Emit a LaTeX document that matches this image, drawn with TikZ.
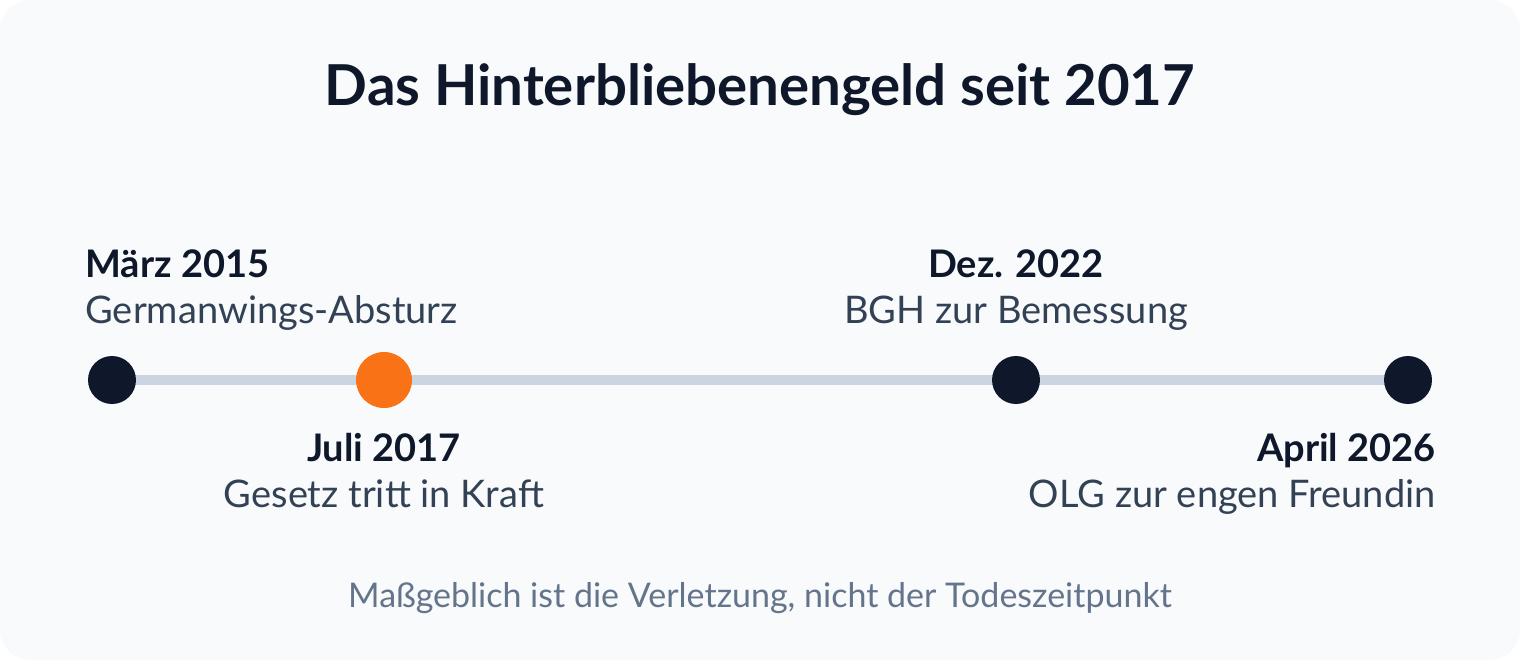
\documentclass[tikz,border=0pt]{standalone}
\usepackage{fontspec}
\setmainfont{Lato}
\usetikzlibrary{positioning}

\definecolor{ink}{HTML}{0F172A}
\definecolor{slate}{HTML}{334155}
\definecolor{muted}{HTML}{64748B}
\definecolor{rail}{HTML}{CBD5E1}
\definecolor{paper}{HTML}{F8FAFC}
\definecolor{accent}{HTML}{F97316}

\tikzset{
    date/.style={inner sep=0pt, text=ink, font=\fontsize{19}{23}\selectfont\bfseries},
    event/.style={inner sep=0pt, text=slate, font=\fontsize{19}{23}\selectfont},
    dot/.style={circle, fill=ink, inner sep=0pt, minimum size=24pt},
}

\begin{document}
\begin{tikzpicture}[x=0.5pt, y=-0.5pt]

            %\draw [help lines] (0,0) grid (1520,660);
            \fill[paper, rounded corners=15pt] (0,0) rectangle (1520,660);
            \useasboundingbox (0,0) rectangle (1520,660);

            \path   (760,105) node (title) [anchor=base, inner sep=0pt, text=ink, font=\fontsize{28.2}{34}\selectfont\bfseries] {Das Hinterbliebenengeld seit 2017}
                    (112,380) node (a) [dot] {}
                    (384,380) node (b) [dot, fill=accent, minimum size=28pt] {}
                    (1016,380) node (c) [dot] {}
                    (1408,380) node (d) [dot] {}
                    (85,277) node (a1) [date, anchor=base west] {März 2015}
                    (85,323) node (a2) [event, anchor=base west] {Germanwings-Absturz}
                    (384,461) node (b1) [date, anchor=base] {Juli 2017}
                    (384,507) node (b2) [event, anchor=base] {Gesetz tritt in Kraft}
                    (1016,277) node (c1) [date, anchor=base] {Dez. 2022}
                    (1016,323) node (c2) [event, anchor=base] {BGH zur Bemessung}
                    (1436,461) node (d1) [date, anchor=base east] {April 2026}
                    (1436,507) node (d2) [event, anchor=base east] {OLG zur engen Freundin}
                    (760,607) node (note) [anchor=base, inner sep=0pt, text=muted, font=\fontsize{17}{21}\selectfont] {Maßgeblich ist die Verletzung, nicht der Todeszeitpunkt};

            % rail between the dots
            \draw[rail, line width=5pt] (a) -- (b);
            \draw[rail, line width=5pt] (b) -- (c);
            \draw[rail, line width=5pt] (c) -- (d);
\end{tikzpicture}
\end{document}
